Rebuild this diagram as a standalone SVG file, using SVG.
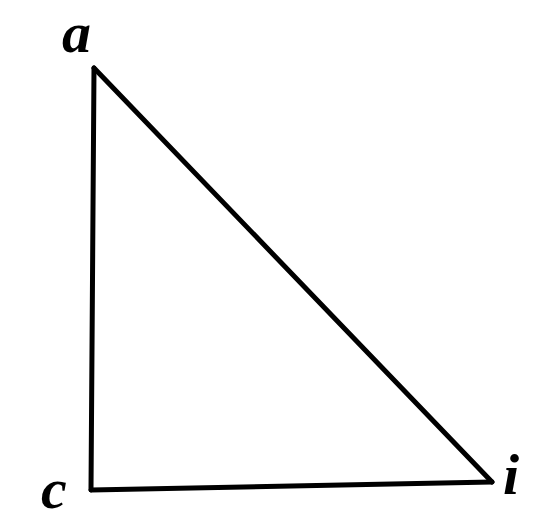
<svg xmlns="http://www.w3.org/2000/svg" width="556" height="524" viewBox="0 0 556 524">
<style>
.lbl{font-family:"Liberation Serif","DejaVu Serif",serif;font-style:italic;font-weight:bold;font-size:58px;fill:#000}
.edge{stroke:#000;stroke-width:5;fill:none;stroke-linejoin:round;stroke-linecap:round}
</style>
<rect width="556" height="524" fill="#fff"/>
<g id="connectors">
<path class="edge" d="M94,68 L91,490"/>
<path class="edge" d="M91,490 L492,482"/>
<path class="edge" d="M94,68 L492,482"/>
</g>
<g id="node-a"><text class="lbl" x="62" y="52">a</text></g>
<g id="node-c"><text class="lbl" x="41" y="508">c</text></g>
<g id="node-i"><text class="lbl" x="503" y="494">i</text></g>
</svg>
